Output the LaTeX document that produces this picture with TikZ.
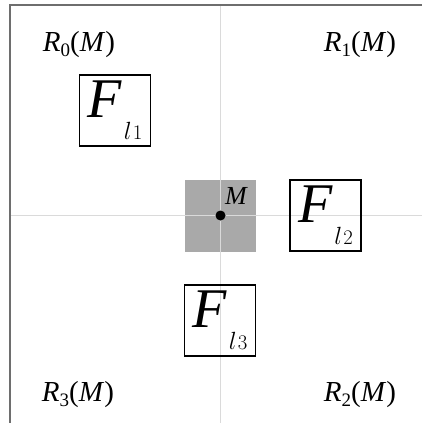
\documentclass[tikz,border=0pt]{standalone}
\usepackage{fontspec}
\setmainfont{Liberation Serif}
\usetikzlibrary{positioning}
\definecolor{moldura}{HTML}{6E6E6E}
\definecolor{eixo}{HTML}{DADADA}
\definecolor{celula}{HTML}{A9A9A9}
\newcommand{\flab}[1]{{\fontsize{56}{56}\selectfont\itshape F}\kern2pt\raisebox{-22pt}{\fontsize{30}{30}\selectfont$l$\kern1pt\fontsize{21}{21}\selectfont$#1$}}
\newcommand{\rlab}[1]{{\fontsize{29}{29}\selectfont\itshape R}\raisebox{-5pt}{\fontsize{19}{19}\selectfont #1}{\fontsize{29}{29}\selectfont(\textit{M})}}

\begin{document}
\begin{tikzpicture}[x=1pt,y=-1pt,
    caixa/.style={draw=black, line width=1.2pt, minimum width=71pt, minimum height=71pt, inner sep=0pt},
    rotulo/.style={inner sep=0pt}]
  \useasboundingbox (0,0) rectangle (422,423);
  % centro e celula
  \coordinate (m) at (220.5,215.5);
  \node[fill=celula, minimum width=71pt, minimum height=72pt, inner sep=0pt] (cel) at (m) {};
  % eixos
  \coordinate (ea) at (10,215.5);
  \coordinate (eb) at (422,215.5);
  \coordinate (ec) at (220.5,5);
  \coordinate (ed) at (220.5,423);
  \draw[eixo, line width=1.5pt] (ea) -- (eb);
  \draw[eixo, line width=1.5pt] (ec) -- (ed);
  % moldura
  \coordinate (ts) at (10,5);
  \draw[moldura, line width=2pt] (422,5) -- (ts) -- (10,423);
  % ponto M
  \fill (m) circle (5pt);
  \node[rotulo, font=\fontsize{26}{26}\selectfont\itshape] (lm) at (236,196) {M};
  % caixas F
  \node[caixa] (f1) at (115,110.5) {\flab{1}};
  \node[caixa] (f2) at (325.5,215.5) {\flab{2}};
  \node[caixa] (f3) at (220,320.5) {\flab{3}};
  % regioes
  \node[rotulo] (r0) at (79,45) {\rlab{0}};
  \node[rotulo] (r1) at (360,45) {\rlab{1}};
  \node[rotulo] (r3) at (78,395) {\rlab{3}};
  \node[rotulo] (r2) at (360,395) {\rlab{2}};
\end{tikzpicture}
\end{document}
